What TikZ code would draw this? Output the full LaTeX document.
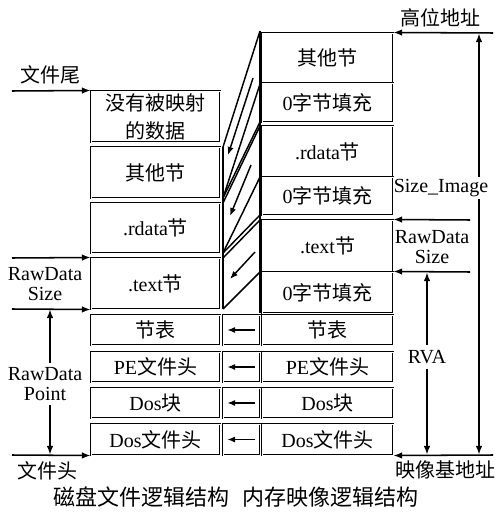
\documentclass[tikz,border=0pt]{standalone}
\usepackage{fontspec}
\setmainfont{Liberation Serif}
\newfontfamily\cjk{Noto Sans CJK SC}
\usetikzlibrary{arrows.meta}
\begin{document}
\begin{tikzpicture}[x=0.75pt,y=-0.75pt,
  cell/.style={draw, double, line width=0.75pt, double distance=0.6pt, inner sep=0pt, align=center, font=\fontsize{15}{16}\selectfont},
  lw/.style={minimum width=96.75pt},
  rw/.style={minimum width=98.25pt},
  mw/.style={minimum width=27.75pt},
  hh/.style={minimum height=#1*0.75pt},
  lbl/.style={inner sep=0.5pt, align=center, font=\fontsize{15}{15}\selectfont},
  captxt/.style={inner sep=0pt, font=\fontsize{16.5}{18}\selectfont},
  arr/.style={-{Latex[length=6.5pt,width=5pt]}, line width=1.15pt},
  arrb/.style={{Latex[length=6.5pt,width=5pt]}-{Latex[length=6.5pt,width=5pt]}, line width=1.15pt},
  ml/.style={line width=1.1pt},
  marr/.style={-{Latex[length=6pt,width=4.6pt]}, line width=1.1pt}
]
\useasboundingbox (0,0) rectangle (499,513);

% left column
\node[cell,lw,hh=51,font=\fontsize{15}{21}\selectfont] (L1) at (155.5,116.5) {{\cjk 没有被映射}\\{\cjk 的数据}};
\node[cell,lw,hh=51] (L2) at (155.5,172.5) {{\cjk 其他节}};
\node[cell,lw,hh=50] (L3) at (155.5,228) {.rdata{\cjk 节}};
\node[cell,lw,hh=51] (L4) at (155.5,283.5) {.text{\cjk 节}};
\node[cell,lw,hh=30] (L5) at (155.5,330) {{\cjk 节表}};
\node[cell,lw,hh=30] (L6) at (155.5,367) {PE{\cjk 文件头}};
\node[cell,lw,hh=30] (L7) at (155.5,403) {Dos{\cjk 块}};
\node[cell,lw,hh=31] (L8) at (155.5,439.5) {Dos{\cjk 文件头}};

% middle small boxes
\node[cell,mw,hh=30] (M5) at (241.5,330) {};
\node[cell,mw,hh=30] (M6) at (241.5,367) {};
\node[cell,mw,hh=30] (M7) at (241.5,403) {};
\node[cell,mw,hh=31] (M8) at (241.5,439.5) {};
\foreach \m in {M5,M6,M7,M8}{
  \draw[marr] ([xshift=-4.5pt]\m.east) -- ([xshift=3.5pt]\m.west);
}

% right column
\node[cell,rw,hh=50] (R1a) at (327.5,58) {{\cjk 其他节}};
\node[cell,rw,hh=39] (R1b) at (327.5,102.5) {0{\cjk 字节填充}};
\node[cell,rw,hh=51] (R2a) at (327.5,151.5) {.rdata{\cjk 节}};
\node[cell,rw,hh=38] (R2b) at (327.5,196) {0{\cjk 字节填充}};
\node[cell,rw,hh=52] (R3a) at (327.5,246) {.text{\cjk 节}};
\node[cell,rw,hh=41] (R3b) at (327.5,292.5) {0{\cjk 字节填充}};
\node[cell,rw,hh=30] (R5) at (327.5,330) {{\cjk 节表}};
\node[cell,rw,hh=30] (R6) at (327.5,367) {PE{\cjk 文件头}};
\node[cell,rw,hh=30] (R7) at (327.5,403) {Dos{\cjk 块}};
\node[cell,rw,hh=31] (R8) at (327.5,439.5) {Dos{\cjk 文件头}};

% mapping region
\coordinate (qa) at (223,147);
\coordinate (qb) at (223,198);
\coordinate (qc) at (223,203);
\coordinate (qd) at (223,253);
\coordinate (qe) at (223,258);
\coordinate (qf) at (223,309);
\coordinate (pa) at (260,31);
\coordinate (pb) at (260,84);
\coordinate (pc) at (260,122);
\coordinate (pd) at (260,126);
\coordinate (pe) at (260,177);
\coordinate (pf) at (260,215);
\coordinate (pg) at (260,220);
\coordinate (ph) at (260,272);
\coordinate (pi) at (260,313);
\draw[ml] (qa) -- (qf);
\draw[ml] (pa) -- (pi);
\draw[ml] (pa) -- (qa);
\draw[ml] (pb) -- (qb);
\draw[ml] (pc) -- (qb);
\draw[ml] (pd) -- (qc);
\draw[ml] (pe) -- (qd);
\draw[ml] (pf) -- (qd);
\draw[ml] (pg) -- (qe);
\draw[ml] (ph) -- (qf);
\coordinate (d1s) at (253,78);  \coordinate (d1e) at (228,155);
\coordinate (d2s) at (251,165); \coordinate (d2e) at (230,216);
\coordinate (d3s) at (255,252); \coordinate (d3e) at (230,279);
\draw[marr] (d1s) -- (d1e);
\draw[marr] (d2s) -- (d2e);
\draw[marr] (d3s) -- (d3e);

% left annotations
\coordinate (la) at (12,91);
\coordinate (lb) at (12,258);
\coordinate (lc) at (12,309);
\coordinate (ld) at (12,455);
\draw[arr] (la) -- (L1.north west);
\draw[arr] (lb) -- (L4.north west);
\draw[arr] (lc) -- (L4.south west);
\draw[arr] (ld) -- (L8.south west);
\node[lbl] (tw) at (50,75) {{\cjk 文件尾}};
\node[lbl] (rs) at (45,284) {RawData\\Size};
\coordinate (pt1) at (50,309.5);
\coordinate (pt2) at (50,454.5);
\draw[arrb] (pt1) -- (pt2);
\node[lbl, fill=white, inner ysep=3pt] (rp) at (45,384) {RawData\\Point};
\node[lbl] (th) at (47,471) {{\cjk 文件头}};
\node[captxt] (c1) at (141,497) {{\cjk 磁盘文件逻辑结构}};

% right annotations
\coordinate (ra) at (493,33);
\coordinate (rb) at (470,220);
\coordinate (rc) at (470,272);
\coordinate (rd) at (493,455);
\draw[arr] (ra) -- (R1a.north east);
\draw[arr] (rb) -- (R3a.north east);
\draw[arr] (rc) -- (R3b.north east);
\draw[arr] (rd) -- (R8.south east);
\coordinate (si1) at (479,33.5);
\coordinate (si2) at (479,454.5);
\draw[arrb] (si1) -- (si2);
\node[lbl, fill=white, inner ysep=2pt] (si) at (441,188) {Size\_Image};
\node[lbl] (rs2) at (432,247) {RawData\\Size};
\coordinate (rv1) at (427,272.5);
\coordinate (rv2) at (427,454.5);
\draw[arrb] (rv1) -- (rv2);
\node[lbl, fill=white, inner ysep=4pt] (rva) at (427,357) {RVA};
\node[lbl] (hi) at (440,18) {{\cjk 高位地址}};
\node[lbl] (base) at (445,470) {{\cjk 映像基地址}};
\node[captxt] (c2) at (330,497) {{\cjk 内存映像逻辑结构}};
\end{tikzpicture}
\end{document}
